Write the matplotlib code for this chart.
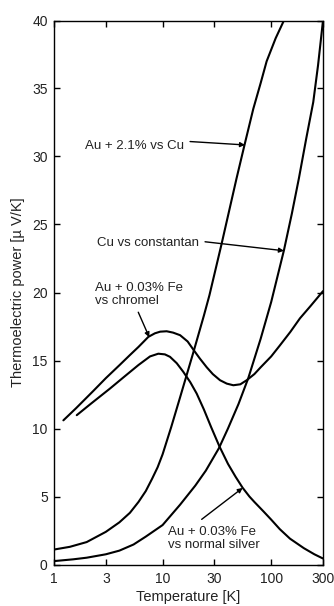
import matplotlib
matplotlib.use("Agg")
import matplotlib.pyplot as plt
from matplotlib.ticker import NullLocator, FixedLocator, FixedFormatter

plt.rcParams['font.family'] = ['Liberation Sans', 'DejaVu Sans']

# ---- data ----
T_au21 = [1, 1.4, 2, 3, 4, 5, 6, 7, 8, 9, 10, 12, 14.5, 19.2, 24, 27, 35, 48, 57, 68.4, 80, 90.8, 110, 131]
S_au21 = [1.1, 1.3, 1.65, 2.4, 3.1, 3.8, 4.6, 5.4, 6.3, 7.15, 8.1, 10.1, 12.3, 15.6, 18.3, 19.8, 23.6, 28.4, 30.9, 33.5, 35.4, 37.0, 38.7, 40.0]

T_cucon = [1, 1.5, 2, 3, 4, 5.4, 7, 10, 14.5, 20, 25, 33, 40, 50, 61.5, 80, 100, 131, 155, 180, 210, 244, 270, 300]
S_cucon = [0.25, 0.38, 0.5, 0.75, 1.02, 1.47, 2.05, 2.9, 4.4, 5.8, 6.9, 8.55, 10.0, 11.8, 13.7, 16.6, 19.3, 23.1, 25.8, 28.4, 31.3, 34.0, 36.7, 40.0]

T_chrom = [1.22, 1.6, 2.3, 3, 4, 5, 6, 7.4, 8.5, 9.5, 10.9, 12.5, 14.5, 17, 19.2, 22, 25.5, 29, 33.8, 39, 44.8, 52, 59.5, 70, 80, 100, 120, 150, 184, 230, 300]
S_chrom = [10.6, 11.5, 12.76, 13.7, 14.65, 15.4, 16.0, 16.74, 17.0, 17.12, 17.15, 17.05, 16.86, 16.4, 15.8, 15.15, 14.5, 14.0, 13.55, 13.3, 13.18, 13.25, 13.55, 14.0, 14.5, 15.3, 16.1, 17.1, 18.1, 19.0, 20.1]

T_silv = [1.62, 2.2, 3.28, 4.5, 6, 7.66, 9.13, 10.5, 11.7, 13.5, 15.5, 18, 20.6, 24, 28, 33.3, 40, 47, 54.6, 63, 70, 85, 100, 120, 149, 200, 250, 300]
S_silv = [10.98, 11.84, 12.94, 13.85, 14.67, 15.3, 15.5, 15.45, 15.27, 14.8, 14.17, 13.4, 12.57, 11.4, 10.1, 8.7, 7.4, 6.45, 5.64, 5.0, 4.6, 3.9, 3.3, 2.6, 1.9, 1.2, 0.75, 0.44]

x_ticks = [1, 3, 10, 30, 100, 300]
x_ticklabels = ['1', '3', '10', '30', '100', '300']
y_ticks = [0, 5, 10, 15, 20, 25, 30, 35, 40]

labels = ['Au + 2.1% vs Cu', 'Cu vs constantan', 'Au + 0.03% Fe\nvs chromel',
          'Au + 0.03% Fe\nvs normal silver']

# ---- figure ----
W, H = 334, 606
fig = plt.figure(figsize=(W / 100, H / 100), dpi=100)
ax = fig.add_axes([54 / W, 1 - 564.5 / H, 269 / W, 544 / H])

lw = 1.5
for T, S in [(T_au21, S_au21), (T_cucon, S_cucon), (T_chrom, S_chrom), (T_silv, S_silv)]:
    ax.plot(T, S, color='black', lw=lw, solid_capstyle='round', solid_joinstyle='round')

ax.set_xscale('log')
ax.set_xlim(1, 300)
ax.set_ylim(0, 40)
ax.xaxis.set_major_locator(FixedLocator(x_ticks))
ax.xaxis.set_major_formatter(FixedFormatter(x_ticklabels))
ax.xaxis.set_minor_locator(NullLocator())
ax.set_yticks(y_ticks)

for sp in ax.spines.values():
    sp.set_linewidth(1.0)
ax.tick_params(axis='both', direction='in', length=4, width=1.0, top=True, right=True,
               labelsize=10, colors='black', labelcolor='#222222')
ax.tick_params(axis='x', pad=5.5)
ax.tick_params(axis='y', pad=4.5)

ax.set_xlabel('Temperature [K]', fontsize=10.5, color='#222222', labelpad=3)
ax.set_ylabel('Thermoelectric power [\u00b5 V/K]', fontsize=10.5, color='#222222', labelpad=5)

txt_kw = dict(fontsize=9.5, color='#222222')
arr_kw = dict(arrowstyle='-|>', color='black', lw=1.0, mutation_scale=7,
              shrinkA=0, shrinkB=0)

# Au + 2.1% vs Cu
ax.text(15.7, 30.8, labels[0], ha='right', va='center', **txt_kw)
ax.annotate('', xy=(57.4, 30.85), xytext=(17.9, 31.1), arrowprops=arr_kw)
# Cu vs constantan
ax.text(21.6, 23.65, labels[1], ha='right', va='center', **txt_kw)
ax.annotate('', xy=(131, 23.07), xytext=(24.6, 23.73), arrowprops=arr_kw)
# chromel
ax.text(2.385, 19.87, labels[2], ha='left', va='center', linespacing=1.15, **txt_kw)
ax.annotate('', xy=(7.54, 16.71), xytext=(5.97, 18.55), arrowprops=arr_kw)
# normal silver
ax.text(11.28, 1.91, labels[3], ha='left', va='center', linespacing=1.15, **txt_kw)
ax.annotate('', xy=(54.6, 5.63), xytext=(22.9, 3.32), arrowprops=arr_kw)

fig.savefig('out.png', dpi=100, facecolor='white')
